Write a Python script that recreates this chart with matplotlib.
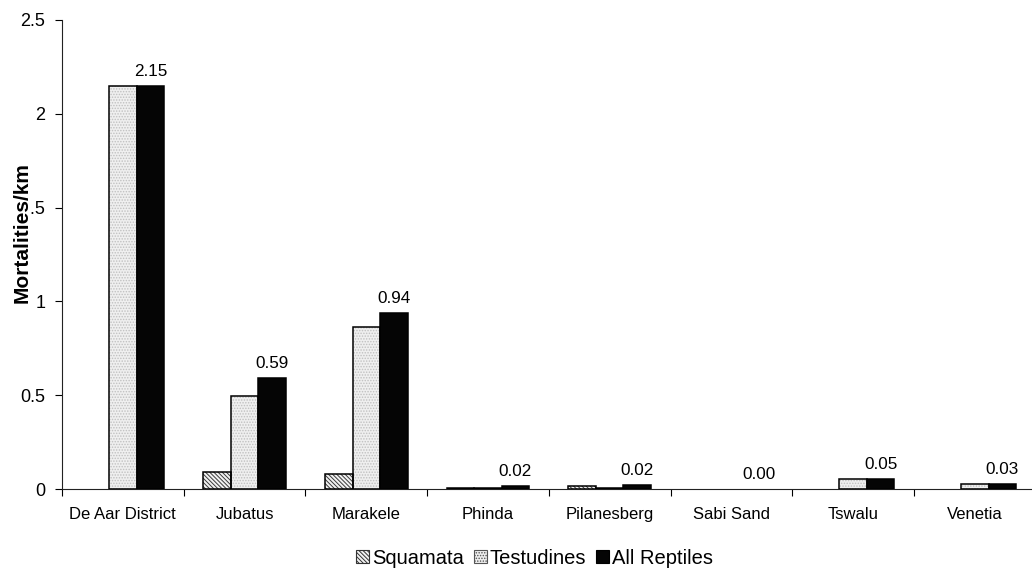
import matplotlib
matplotlib.use('Agg')
import matplotlib.pyplot as plt
from matplotlib.patches import Patch
import numpy as np

plt.rcParams['font.family'] = ['Liberation Sans', 'DejaVu Sans']
plt.rcParams['hatch.linewidth'] = 0.7

# data
sites = ['De Aar District', 'Jubatus', 'Marakele', 'Phinda', 'Pilanesberg',
         'Sabi Sand', 'Tswalu', 'Venetia']
squamata = [0.0, 0.092, 0.078, 0.006, 0.018, 0.0, 0.0, 0.0]
testudines = [2.15, 0.498, 0.864, 0.006, 0.006, 0.0, 0.052, 0.028]
all_reptiles = [2.15, 0.59, 0.94, 0.018, 0.023, 0.0, 0.052, 0.028]
series_names = ['Squamata', 'Testudines', 'All Reptiles']

fig = plt.figure(figsize=(10.32, 5.72), dpi=100, facecolor='white')
ax = fig.add_axes([0.0601, 0.1451, 0.9434, 0.82])

x = np.arange(len(sites))
w = 0.226
lw = 1.1


def edge_widths(vals):
    # zero-height bars leave no outline in the reference
    return [lw if v > 0 else 0 for v in vals]


sq_hatch = '\\\\\\\\\\\\\\\\'
te_hatch = '......'

ax.bar(x - w, squamata, w, color='#f2f2f2', hatch=sq_hatch, edgecolor='#3a3a3a',
       linewidth=0, zorder=2)
ax.bar(x - w, squamata, w, fill=False, edgecolor='black',
       linewidth=edge_widths(squamata), zorder=3)
ax.bar(x, testudines, w, color='#efefef', hatch=te_hatch, edgecolor='#c0c0c0',
       linewidth=0, zorder=2)
ax.bar(x, testudines, w, fill=False, edgecolor='black',
       linewidth=edge_widths(testudines), zorder=3)
ax.bar(x + w, all_reptiles, w, color='#050505', edgecolor='black',
       linewidth=edge_widths(all_reptiles), zorder=3)

for xi, v in zip(x, all_reptiles):
    ax.annotate('%.2f' % v, (xi + w, v), xytext=(0, 5), textcoords='offset points',
                ha='center', va='bottom', fontsize=12.3)

ax.set_xlim(-0.5, len(sites) - 0.5)
ax.set_ylim(0, 2.5)
ax.set_yticks([0, 0.5, 1, 1.5, 2, 2.5])
ax.set_yticklabels(['0', '0.5', '1', '1.5', '2', '2.5'], fontsize=13)
ax.set_xticks(x)
ax.set_xticklabels(sites, fontsize=12)
ax.set_xticks(np.arange(len(sites) + 1) - 0.5, minor=True)
ax.tick_params(axis='x', which='major', length=0, pad=13)
ax.tick_params(axis='x', which='minor', length=5, direction='out', width=0.8)
ax.tick_params(axis='y', length=5, direction='out', width=0.8, pad=7)

for s in ['top', 'right']:
    ax.spines[s].set_visible(False)
for s in ['left', 'bottom']:
    ax.spines[s].set_linewidth(0.8)
    ax.spines[s].set_color('#222222')

# the label sits over the "1" of 1.5, as in the original
ylab = ax.set_ylabel('Mortalities/km', fontsize=15, fontweight='bold')
ylab.set_bbox(dict(facecolor='white', edgecolor='none', pad=0))
ax.yaxis.set_label_coords(-0.0315, 0.546)

handles = [
    Patch(facecolor='#f2f2f2', hatch=sq_hatch, edgecolor='#333333', linewidth=0.8),
    Patch(facecolor='#efefef', hatch=te_hatch, edgecolor='#555555', linewidth=0.8),
    Patch(facecolor='#050505', edgecolor='black', linewidth=0.8),
]
fig.legend(handles, series_names, loc='center', bbox_to_anchor=(0.518, 0.024), ncol=3,
           frameon=False, fontsize=14.5, handlelength=0.65, handleheight=0.65,
           handletextpad=0.15, columnspacing=0.5, borderpad=0)

fig.savefig('out.png', dpi=100, facecolor='white')
